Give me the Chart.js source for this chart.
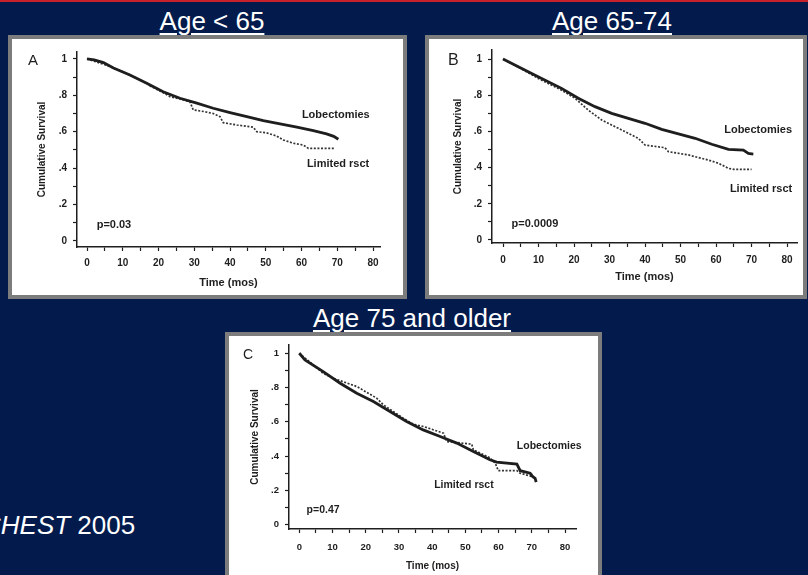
<!DOCTYPE html>
<html>
<head>
<meta charset="utf-8">
<script src="https://cdn.jsdelivr.net/npm/chart.js@4.4.1/dist/chart.umd.min.js"></script>
<style>
  body { margin: 0; width: 808px; height: 575px; background: #021a4c; position: relative; overflow: hidden;
         font-family: Arial, "Liberation Sans", sans-serif; }
  .redbar { position: absolute; left: 0; top: 0; width: 808px; height: 2px; background: #c8202a; }
  .ttl { position: absolute; color: #fff; font-size: 26px; line-height: 26px; text-align: center;
         text-decoration: underline; text-decoration-thickness: 2px; text-underline-offset: 3px; white-space: nowrap; }
  .panel { position: absolute; background: #fff; border: 4px solid #7c7c7c; }
  .panel canvas { position: absolute; left: 0; top: 0; }
  .src { position: absolute; left: -18px; top: 512px; color: #fff; font-size: 26px; line-height: 26px; white-space: nowrap; }
</style>
</head>
<body>
<div class="redbar"></div>

<div class="ttl" id="t0" style="left:112px; top:8px; width:200px;"></div>
<div class="ttl" id="t1" style="left:512px; top:8px; width:200px;"></div>
<div class="ttl" id="t2" style="left:262px; top:305px; width:300px;"></div>

<div class="panel" style="left:8px; top:35px; width:391px; height:256px;"><canvas id="cA" width="391" height="256"></canvas></div>
<div class="panel" style="left:425px; top:35px; width:374px; height:256px;"><canvas id="cB" width="374" height="256"></canvas></div>
<div class="panel" style="left:225px; top:332px; width:369px; height:250px;"><canvas id="cC" width="369" height="239"></canvas></div>

<div class="src"><i>CHEST</i> 2005</div>

<script>
// values: [months, cumulative survival]
const panelTitles = ['Age < 65', 'Age 65-74', 'Age 75 and older'];
const seriesNames = ['Lobectomies', 'Limited rsct'];
const pValues = ['p=0.03', 'p=0.0009', 'p=0.47'];
const yTickLabels = ['0', '.2', '.4', '.6', '.8', '1'];
const xTickLabels = ['0', '10', '20', '30', '40', '50', '60', '70', '80'];

const lobeA = [[0,1],[2,0.995],[4.6,0.98],[7.4,0.95],[12,0.912],[16.7,0.866],[21.3,0.82],[26,0.784],[30.7,0.757],
  [35.3,0.729],[40,0.705],[44.7,0.683],[49.3,0.661],[54,0.643],[58.7,0.625],[63.3,0.606],[67,0.588],[69,0.575],[70.3,0.559]];
const limA = [[0,1],[5.5,0.965],[10,0.93],[16.7,0.866],[17.6,0.852],[20.8,0.82],[23.2,0.793],[26,0.78],[28.8,0.765],
  [29.7,0.72],[33,0.71],[35.3,0.70],[37.2,0.683],[38.1,0.65],[41.9,0.637],[46.5,0.625],[47.5,0.60],[50,0.595],
  [53,0.577],[54.9,0.555],[57.7,0.537],[60.5,0.527],[61.9,0.509],[69.4,0.509]];

const lobeB = [[0,1],[5,0.95],[9.9,0.902],[16.5,0.838],[21.2,0.783],[25.9,0.737],[30.6,0.70],[35.3,0.672],[40,0.645],
  [44.7,0.611],[49.4,0.586],[54.1,0.562],[58.8,0.529],[63.5,0.501],[67.7,0.497],[69.1,0.479],[70.5,0.475]];
const limB = [[0,1],[5,0.948],[9.9,0.893],[16.5,0.828],[20.3,0.783],[24,0.718],[27.8,0.663],[32.5,0.617],[38.1,0.562],
  [40,0.525],[45.6,0.51],[46.6,0.488],[52.2,0.47],[57.8,0.442],[60.7,0.424],[63.5,0.396],[65,0.39],[70,0.39]];

const lobeC = [[0,1],[1.7,0.961],[7.2,0.893],[12.3,0.825],[17.3,0.767],[22.3,0.718],[27.3,0.66],[32.3,0.602],[37.3,0.553],
  [42.4,0.514],[47.4,0.476],[52.4,0.427],[57.4,0.379],[59.4,0.365],[65.5,0.353],[66.5,0.315],[69.5,0.30],[70.3,0.28],[71,0.27],[71.3,0.249]];
const limC = [[0,1],[7.2,0.883],[10.2,0.854],[17.3,0.806],[23.3,0.738],[25.3,0.699],[31.3,0.621],[34.3,0.586],[37.3,0.573],
  [43.4,0.534],[44.4,0.485],[51.9,0.47],[52.4,0.437],[57.4,0.39],[59,0.359],[59.9,0.315],[65.5,0.315],[66.5,0.30],[70.3,0.28]];

panelTitles.forEach((t, i) => { document.getElementById('t' + i).textContent = t; });

const ink = '#1e1e1e';
const fam = 'Arial, "Liberation Sans", sans-serif';

// draws the in-plot texts (panel letter, p value, curve names)
const notesPlugin = {
  id: 'notes',
  afterDatasetsDraw(chart, args, opts) {
    const ctx = chart.ctx;
    const sx = chart.scales.x, sy = chart.scales.y;
    ctx.save();
    ctx.fillStyle = ink;
    ctx.textAlign = 'left';
    ctx.textBaseline = 'alphabetic';
    (opts.items || []).forEach(it => {
      ctx.font = it.font;
      const px = it.px !== undefined ? it.px : sx.getPixelForValue(it.x);
      const py = it.py !== undefined ? it.py : sy.getPixelForValue(it.y);
      ctx.fillText(it.text, px, py);
    });
    ctx.restore();
  }
};

const toXY = arr => arr.map(p => ({ x: p[0], y: p[1] }));

function makeChart(id, lobe, lim, g) {
  const ctx = document.getElementById(id).getContext('2d');
  return new Chart(ctx, {
    type: 'line',
    data: {
      datasets: [
        { label: seriesNames[0], data: toXY(lobe), borderColor: ink, borderWidth: 2.8, pointRadius: 0, tension: 0, fill: false },
        { label: seriesNames[1], data: toXY(lim), borderColor: '#333', borderWidth: 1.7, borderDash: [2, 1.6], pointRadius: 0, tension: 0, fill: false }
      ]
    },
    options: {
      responsive: false,
      animation: false,
      devicePixelRatio: 1,
      layout: { padding: { left: 0, top: g.top, right: g.right, bottom: 0 } },
      plugins: {
        legend: { display: false },
        tooltip: { enabled: false },
        notes: { items: g.notes }
      },
      scales: {
        x: {
          type: 'linear',
          min: g.xMin, max: g.xMax,
          border: { display: true, color: ink, width: 1.5 },
          grid: { drawOnChartArea: false, drawTicks: true, tickLength: 4, tickColor: ink, tickWidth: 1.2 },
          ticks: {
            stepSize: 5, includeBounds: false, autoSkip: false, maxRotation: 0,
            padding: g.xPad, color: ink, font: { family: fam, size: g.tickSize, weight: 'bold' },
            callback: v => (Math.abs(v % 10) < 1e-6 ? xTickLabels[Math.round(v / 10)] : '')
          },
          afterBuildTicks: s => { s.ticks = s.ticks.filter(t => t.value >= -1e-6 && t.value <= 80 + 1e-6); },
          afterFit: s => { s.height = g.xH; s.paddingLeft = 0; s.paddingRight = 0; s.paddingTop = 0; s.paddingBottom = 0; },
          title: { display: true, text: 'Time (mos)', color: ink, padding: { top: 0, bottom: g.xTitlePad },
                   font: { family: fam, size: g.titleSize, weight: 'bold' } }
        },
        y: {
          type: 'linear',
          min: g.yMin, max: g.yMax,
          border: { display: true, color: ink, width: 1.5 },
          grid: { drawOnChartArea: false, drawTicks: true, tickLength: 4, tickColor: ink, tickWidth: 1.2 },
          ticks: {
            stepSize: 0.1, includeBounds: false, autoSkip: false,
            padding: 6, color: ink, font: { family: fam, size: g.tickSize, weight: 'bold' },
            callback: v => {
              const k = Math.round(v * 100);
              return k % 20 === 0 ? yTickLabels[k / 20] : '';
            }
          },
          afterBuildTicks: s => { s.ticks = s.ticks.filter(t => t.value >= -1e-6 && t.value <= 1 + 1e-6); },
          afterFit: s => { s.width = g.yW; s.paddingLeft = 0; s.paddingRight = 0; s.paddingTop = 0; s.paddingBottom = 0; },
          title: { display: true, text: 'Cumulative Survival', color: ink, padding: { top: g.yTitlePad, bottom: 0 },
                   font: { family: fam, size: 10, weight: 'bold' } }
        }
      }
    },
    plugins: [notesPlugin]
  });
}

makeChart('cA', lobeA, limA, {
  top: 13, right: 23, yW: 65, xH: 48,
  xMin: -2.8, xMax: 81.95, yMin: -0.033, yMax: 1.038,
  xPad: 6, xTitlePad: 5, yTitlePad: 24, tickSize: 10, titleSize: 11,
  notes: [
    { text: 'A', px: 16, py: 26, font: '15px ' + fam },
    { text: pValues[0], x: 2.7, y: 0.07, font: 'bold 11px ' + fam },
    { text: seriesNames[0], x: 60.1, y: 0.676, font: 'bold 11px ' + fam },
    { text: seriesNames[1], x: 61.5, y: 0.405, font: 'bold 11px ' + fam }
  ]
});

makeChart('cB', lobeB, limB, {
  top: 11, right: 6, yW: 63, xH: 52,
  xMin: -3.1, xMax: 82.8, yMin: -0.0166, yMax: 1.05,
  xPad: 7, xTitlePad: 11, yTitlePad: 23, tickSize: 10, titleSize: 11,
  notes: [
    { text: 'B', px: 19, py: 26, font: '16px ' + fam },
    { text: pValues[1], x: 2.4, y: 0.072, font: 'bold 11px ' + fam },
    { text: seriesNames[0], x: 62.3, y: 0.589, font: 'bold 11px ' + fam },
    { text: seriesNames[1], x: 63.9, y: 0.267, font: 'bold 11px ' + fam }
  ]
});

makeChart('cC', lobeC, limC, {
  top: 9, right: 22, yW: 60, xH: 46,
  xMin: -3.1, xMax: 83.3, yMin: -0.025, yMax: 1.048,
  xPad: 9, xTitlePad: 3, yTitlePad: 20, tickSize: 9.5, titleSize: 10,
  notes: [
    { text: 'C', px: 14, py: 23, font: '14px ' + fam },
    { text: pValues[2], x: 2.2, y: 0.068, font: 'bold 10.5px ' + fam },
    { text: seriesNames[0], x: 65.5, y: 0.443, font: 'bold 10.5px ' + fam },
    { text: seriesNames[1], x: 40.6, y: 0.217, font: 'bold 10.5px ' + fam }
  ]
});
</script>
</body>
</html>
